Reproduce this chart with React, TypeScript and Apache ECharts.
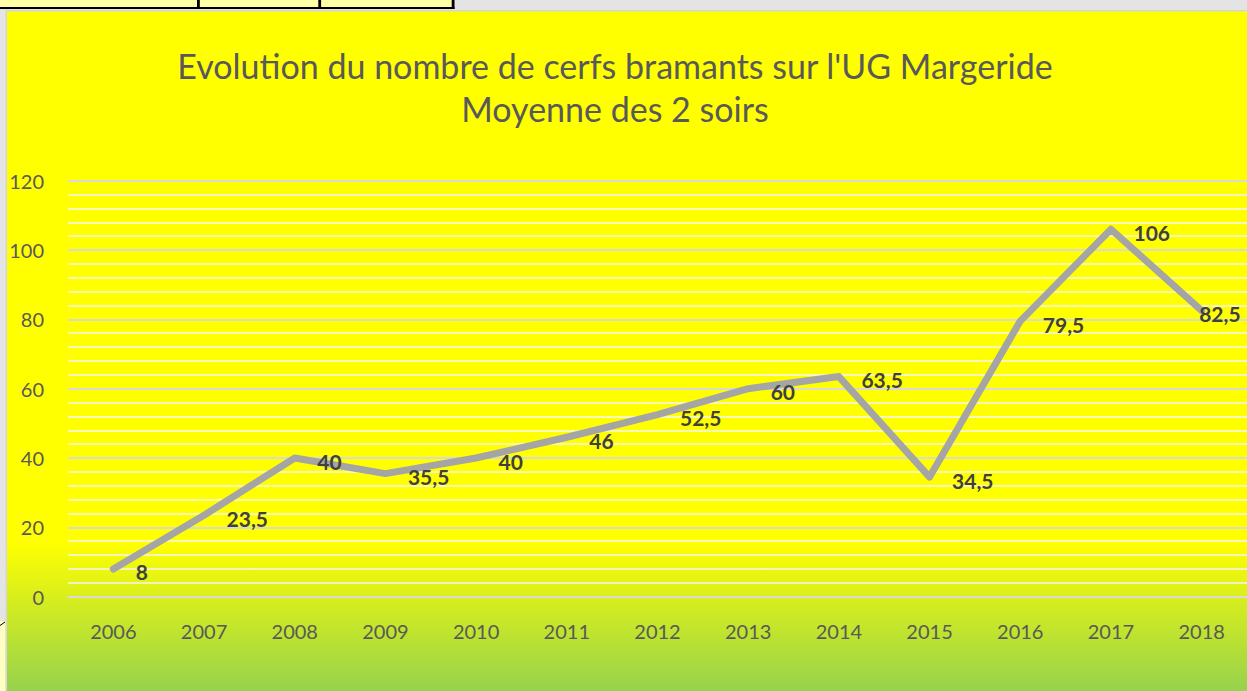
import React, { useEffect, useRef } from "react";
import * as echarts from "echarts";

const years = ["2006", "2007", "2008", "2009", "2010", "2011", "2012", "2013", "2014", "2015", "2016", "2017", "2018"];
const moyenne = [8, 23.5, 40, 35.5, 40, 46, 52.5, 60, 63.5, 34.5, 79.5, 106, 82.5];
const titleLines = ["Evolution du nombre de cerfs bramants sur l'UG Margeride", "Moyenne des 2 soirs"];
const yMin = 0;
const yMax = 120;
const yInterval = 20;

export default function App() {
  const ref = useRef<HTMLDivElement>(null);
  useEffect(() => {
    if (!ref.current) return;
    const chart = echarts.init(ref.current, null, { renderer: "svg" });
    const font = "Lato, 'Open Sans', sans-serif";
    const data = moyenne.map((v, i) =>
      i === moyenne.length - 1 ? { value: v, label: { distance: -3 } } : v
    );
    chart.setOption({
      animation: false,
      backgroundColor: "#e4e4e4",
      graphic: [
        { type: "rect", z: -20, shape: { x: 0, y: 0, width: 453, height: 8 }, style: { fill: "#ffffa8" } },
        { type: "rect", z: -19, shape: { x: 0, y: 7, width: 454.5, height: 2 }, style: { fill: "#000" } },
        { type: "rect", z: -19, shape: { x: 197, y: 0, width: 2.8, height: 9 }, style: { fill: "#000" } },
        { type: "rect", z: -19, shape: { x: 318.3, y: 0, width: 2.8, height: 9 }, style: { fill: "#000" } },
        { type: "rect", z: -19, shape: { x: 451.7, y: 0, width: 2.8, height: 9 }, style: { fill: "#000" } },
        { type: "rect", z: -20, shape: { x: 0, y: 621, width: 5.5, height: 70 }, style: { fill: "#ffffc2" } },
        { type: "line", z: -19, shape: { x1: 0, y1: 625.5, x2: 5, y2: 622 }, style: { stroke: "#000", lineWidth: 1 } },
        {
          type: "rect",
          z: -18,
          shape: { x: 6.3, y: 10.8, width: 1300, height: 700 },
          style: {
            fill: new echarts.graphic.LinearGradient(0, 0, 0, 1, [
              { offset: 0, color: "#ffff00" },
              { offset: 0.76, color: "#ffff00" },
              { offset: 0.98, color: "#92d050" },
              { offset: 1, color: "#92d050" },
            ]),
            stroke: "#d6d6d6",
            lineWidth: 1.5,
          },
        },
        {
          type: "text",
          z: 5,
          x: 615,
          y: 65,
          style: {
            text: titleLines[0],
            fill: "#595959",
            font: `34px ${font}`,
            textAlign: "center",
            textVerticalAlign: "middle",
          },
        },
        {
          type: "text",
          z: 5,
          x: 615,
          y: 108,
          style: {
            text: titleLines[1],
            fill: "#595959",
            font: `34px ${font}`,
            textAlign: "center",
            textVerticalAlign: "middle",
          },
        },
      ],
      grid: { left: 68, right: -10, top: 180.7, bottom: 94.3, containLabel: false },
      xAxis: {
        type: "category",
        data: years,
        boundaryGap: true,
        axisLine: { show: true, lineStyle: { color: "#d9d9d9", width: 2 } },
        axisTick: { show: false },
        axisLabel: { color: "#595959", fontSize: 20, fontFamily: font, margin: 24 },
        splitLine: { show: false },
      },
      yAxis: {
        type: "value",
        min: yMin,
        max: yMax,
        interval: yInterval,
        axisLine: { show: false },
        axisTick: { show: false },
        axisLabel: { color: "#595959", fontSize: 20, fontFamily: font, margin: 24 },
        splitLine: { show: true, lineStyle: { color: "#d9d9d9", width: 2 } },
        minorTick: { show: false, splitNumber: 5 },
        minorSplitLine: { show: true, lineStyle: { color: "#f4f4f4", width: 1.5 } },
      },
      series: [
        {
          type: "line",
          data,
          symbol: "circle",
          symbolSize: 1,
          showSymbol: true,
          lineStyle: { color: "#a5a5a5", width: 7, cap: "round", join: "round" },
          itemStyle: { color: "rgba(165,165,165,0)" },
          z: 3,
          label: {
            show: true,
            position: "right",
            distance: 22,
            offset: [0, 3],
            color: "#404040",
            fontWeight: "bold",
            fontSize: 21,
            fontFamily: font,
            formatter: (p: any) => String(p.value).replace(".", ","),
          },
        },
      ],
    });
    return () => chart.dispose();
  }, []);
  return (
    <div
      ref={ref}
      style={{ position: "fixed", left: 0, top: 0, width: 1247, height: 691 }}
    />
  );
}
